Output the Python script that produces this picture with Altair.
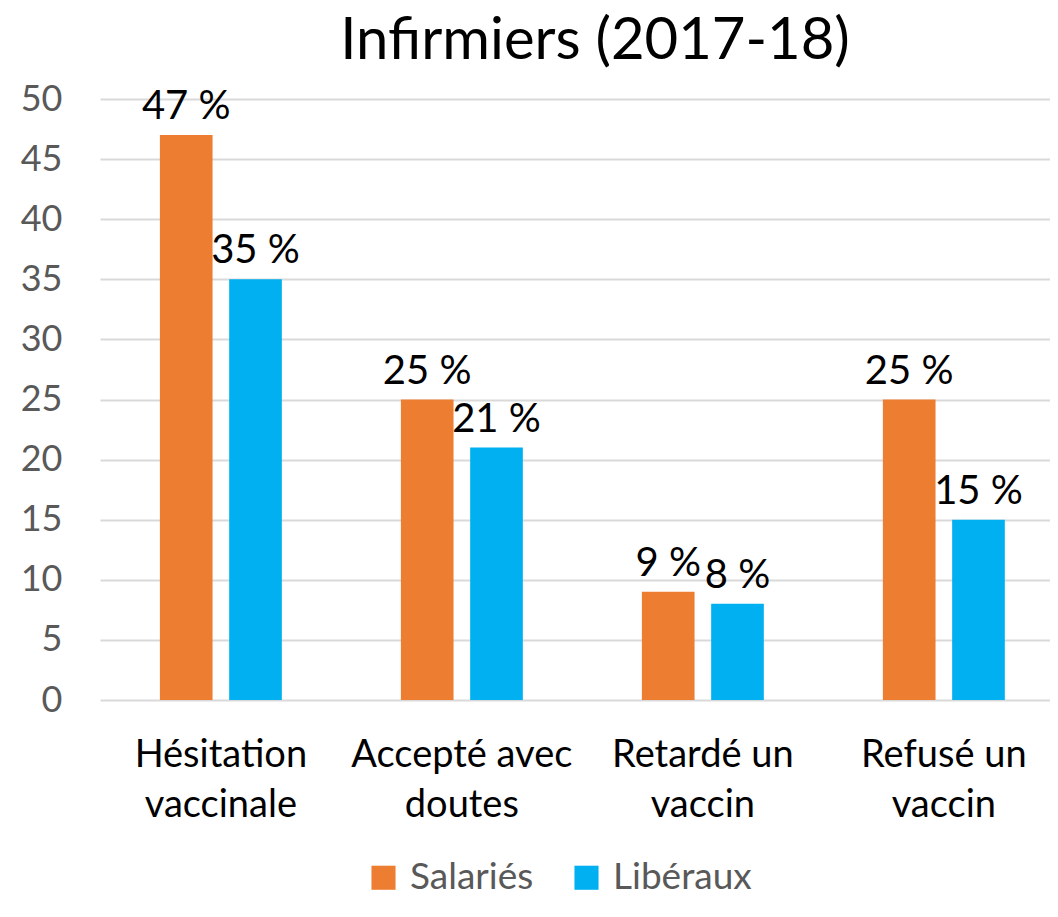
import altair as alt
import pandas as pd

categories = ["Hésitation\nvaccinale", "Accepté avec\ndoutes", "Retardé un\nvaccin", "Refusé un\nvaccin"]
series_names = ["Salariés", "Libéraux"]
salaries = [47, 25, 9, 25]
liberaux = [35, 21, 8, 15]
colors = ["#ED7D31", "#00B0F0"]
y_ticks = [0, 5, 10, 15, 20, 25, 30, 35, 40, 45, 50]

rows = []
for c, s, l in zip(categories, salaries, liberaux):
    rows.append({"cat": c, "serie": series_names[0], "val": s})
    rows.append({"cat": c, "serie": series_names[1], "val": l})
df = pd.DataFrame(rows)

FONT = "Lato"

x = alt.X("cat:N", sort=categories, title=None,
          scale=alt.Scale(paddingInner=0.494, paddingOuter=0.218, align=0.57),
          axis=alt.Axis(labelExpr="split(datum.label, '\\n')", labelFontSize=38,
                        labelColor="#000000", labelFont=FONT, labelAngle=0,
                        labelLineHeight=50, labelPadding=36, ticks=False,
                        labelLimit=0, domain=False, grid=False))
xo = alt.XOffset("serie:N", sort=series_names,
                 scale=alt.Scale(paddingInner=0.24, paddingOuter=0))
y = alt.Y("val:Q", title=None,
          scale=alt.Scale(domain=[0, 50], nice=False),
          axis=alt.Axis(values=y_ticks, labelFontSize=36, labelColor="#595959",
                        labelFont=FONT, labelPadding=38, ticks=False, domain=False,
                        gridColor="#D9D9D9", gridWidth=2))

bars = alt.Chart(df).mark_bar().encode(
    x=x, xOffset=xo, y=y,
    color=alt.Color("serie:N", sort=series_names,
                    scale=alt.Scale(domain=series_names, range=colors),
                    legend=alt.Legend(title=None, orient="none", direction="horizontal",
                                      legendX=265, legendY=760, symbolType="square",
                                      symbolSize=580, symbolStrokeWidth=0,
                                      labelFontSize=37, labelColor="#595959",
                                      labelFont=FONT, columnPadding=34, labelOffset=8,
                                      labelLimit=0))
)

labels = alt.Chart(df).transform_calculate(
    lbl="datum.val + ' %'"
).mark_text(fontSize=40, font=FONT, color="#000000",
            baseline="middle", dy=-28).encode(
    x=alt.X("cat:N", sort=categories),
    xOffset=xo,
    y=alt.Y("val:Q"),
    text="lbl:N",
)

chart = alt.layer(bars, labels).properties(
    width=950, height=601,
    title=alt.TitleParams("Infirmiers (2017-18)", fontSize=58, font=FONT,
                          fontWeight="normal", color="#000000", offset=10, dx=20),
    autosize=alt.AutoSizeParams(type="none"),
    padding={"left": 92, "top": 91, "right": 0, "bottom": 209},
).configure_view(stroke=None)

chart.save("out.html", embed_options={"renderer": "svg", "actions": False})
